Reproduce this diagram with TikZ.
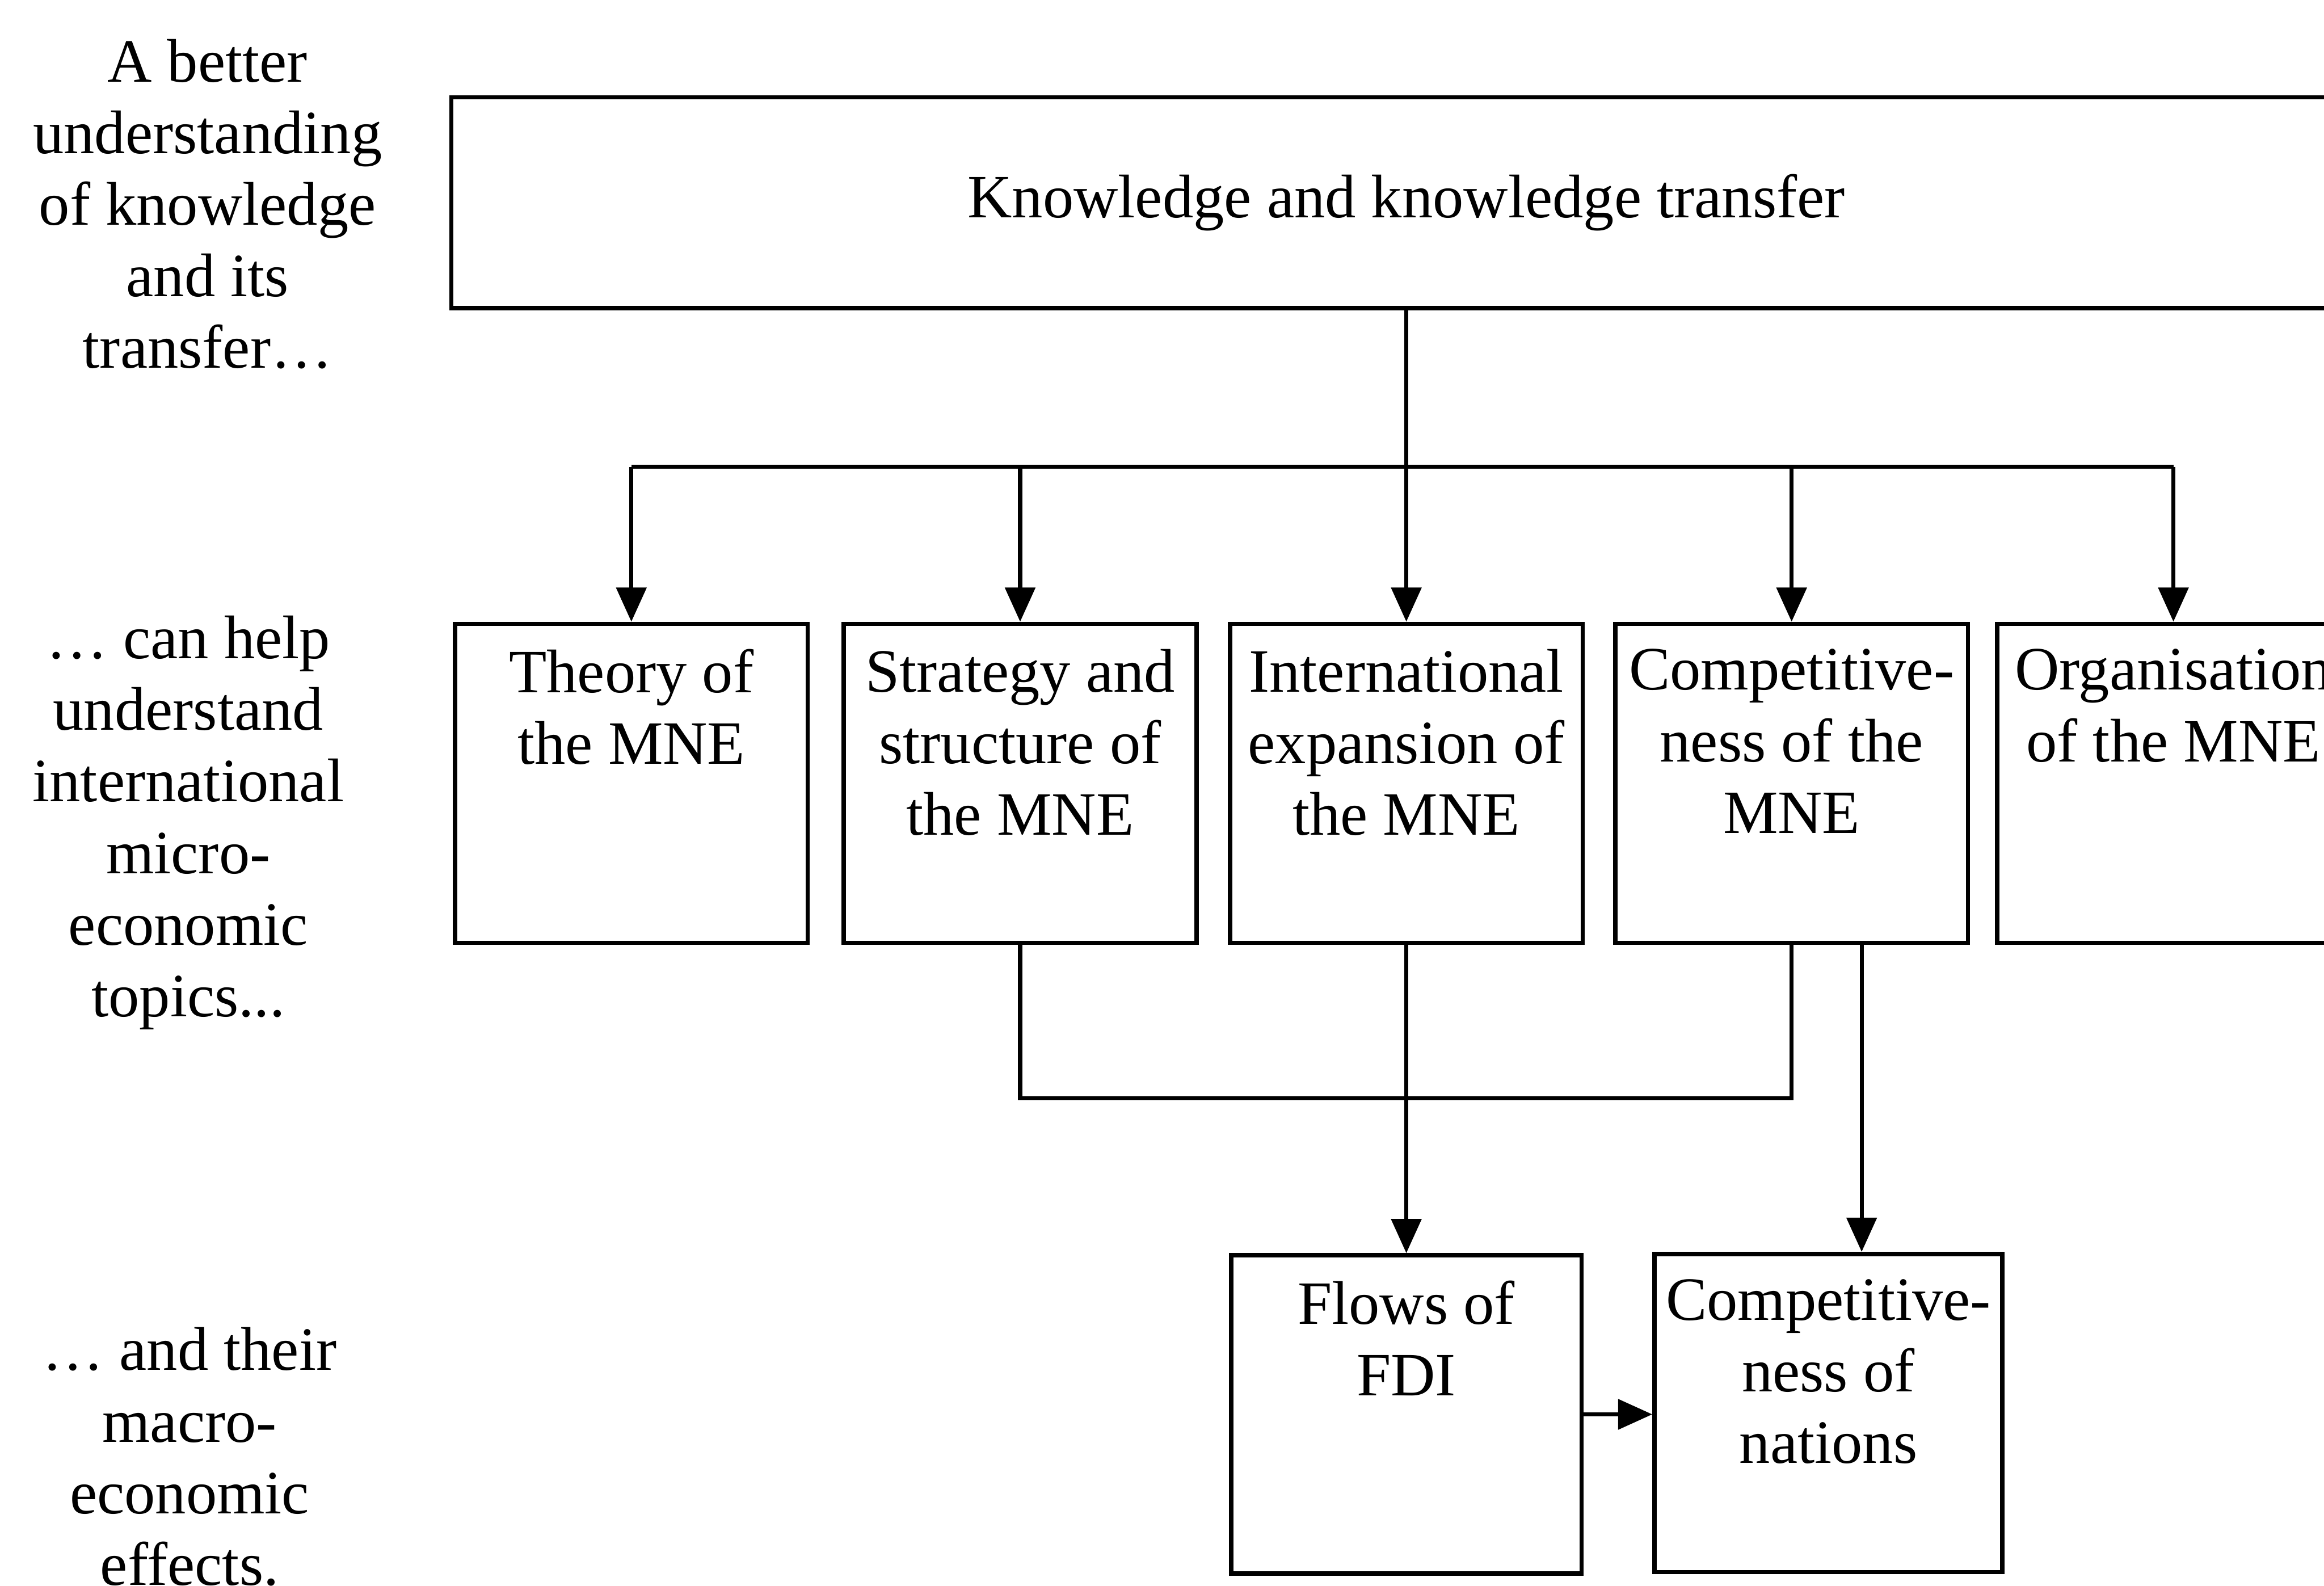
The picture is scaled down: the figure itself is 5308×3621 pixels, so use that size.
\documentclass[tikz,border=0pt]{standalone}
\usepackage{fontspec}
\setmainfont{Liberation Serif}
\usetikzlibrary{arrows.meta}
\begin{document}
\begin{tikzpicture}[x=0.01cm,y=-0.01cm,
  box/.style={draw, line width=2.8pt, minimum width=8.05cm, minimum height=7.28cm, inner sep=0pt},
  conn/.style={line width=2.6pt},
  arr/.style={conn, -{Triangle[length=7.8mm,width=6.8mm]}},
  txt/.style={font=\fontsize{40}{46.5}\selectfont, align=center, inner sep=0pt},
  intxt/.style={txt, anchor=north, yshift=-6.2mm}]
\clip (0,0) rectangle (5308,3621);
\fill[white] (0,0) rectangle (5308,3621);

% left column texts
\node[txt] (lt1) at (474,466) {A better\\understanding\\of knowledge\\and its\\transfer…};
\node[txt] (lt2) at (430,1879) {… can help\\understand\\international\\micro-\\economic\\topics...};
\node[txt] (lt3) at (433,3327) {… and their\\macro-\\economic\\effects.};

% top box
\node[box, txt, minimum width=43.6cm, minimum height=4.81cm, line width=2.8pt, draw] (top) at (3212,463) {Knowledge and knowledge transfer};

% middle row
\node[box] (theory) at (1442,1789) {};
\node[box] (strat) at (2330,1789) {};
\node[box] (inter) at (3212,1789) {};
\node[box] (comp) at (4092,1789) {};
\node[box] (org) at (4964,1789) {};

\node[intxt] (theoryT) at (theory.north) {Theory of\\the MNE};
\node[intxt] (stratT) at (strat.north) {Strategy and\\structure of\\the MNE};
\node[intxt] (interT) at (inter.north) {International\\expansion of\\the MNE};
\node[intxt] (compT) at (comp.north) {Competitive-\\ness of the\\MNE};
\node[intxt] (orgT) at (org.north) {Organisation\\of the MNE};

% bottom row
\node[box, minimum width=8cm, minimum height=7.26cm] (fdi) at (3212,3230) {};
\node[box, minimum width=7.94cm, minimum height=7.26cm] (nat) at (4176,3227) {};
\node[intxt] (fdiT) at (fdi.north) {Flows of\\FDI};
\node[intxt] (natT) at (nat.north) {Competitive-\\ness of\\nations};

% connectors
\coordinate (bar) at (0,1066);
\coordinate (low) at (0,2508);
\coordinate (cn) at (4252,0);

\draw[conn] (theory.north |- bar) -- (org.north |- bar);
\draw[arr] (top.south) -- (inter.north);
\foreach \n in {theory,strat,comp,org} \draw[arr] (\n.north |- bar) -- (\n.north);

\draw[conn] (strat.south) -- (strat.south |- low) -- (comp.south |- low) -- (comp.south);
\draw[arr] (inter.south) -- (fdi.north);
\draw[arr] (comp.south -| cn) -- (nat.north -| cn);
\draw[arr] (fdi.east) -- (fdi.east -| nat.west);
\end{tikzpicture}
\end{document}
